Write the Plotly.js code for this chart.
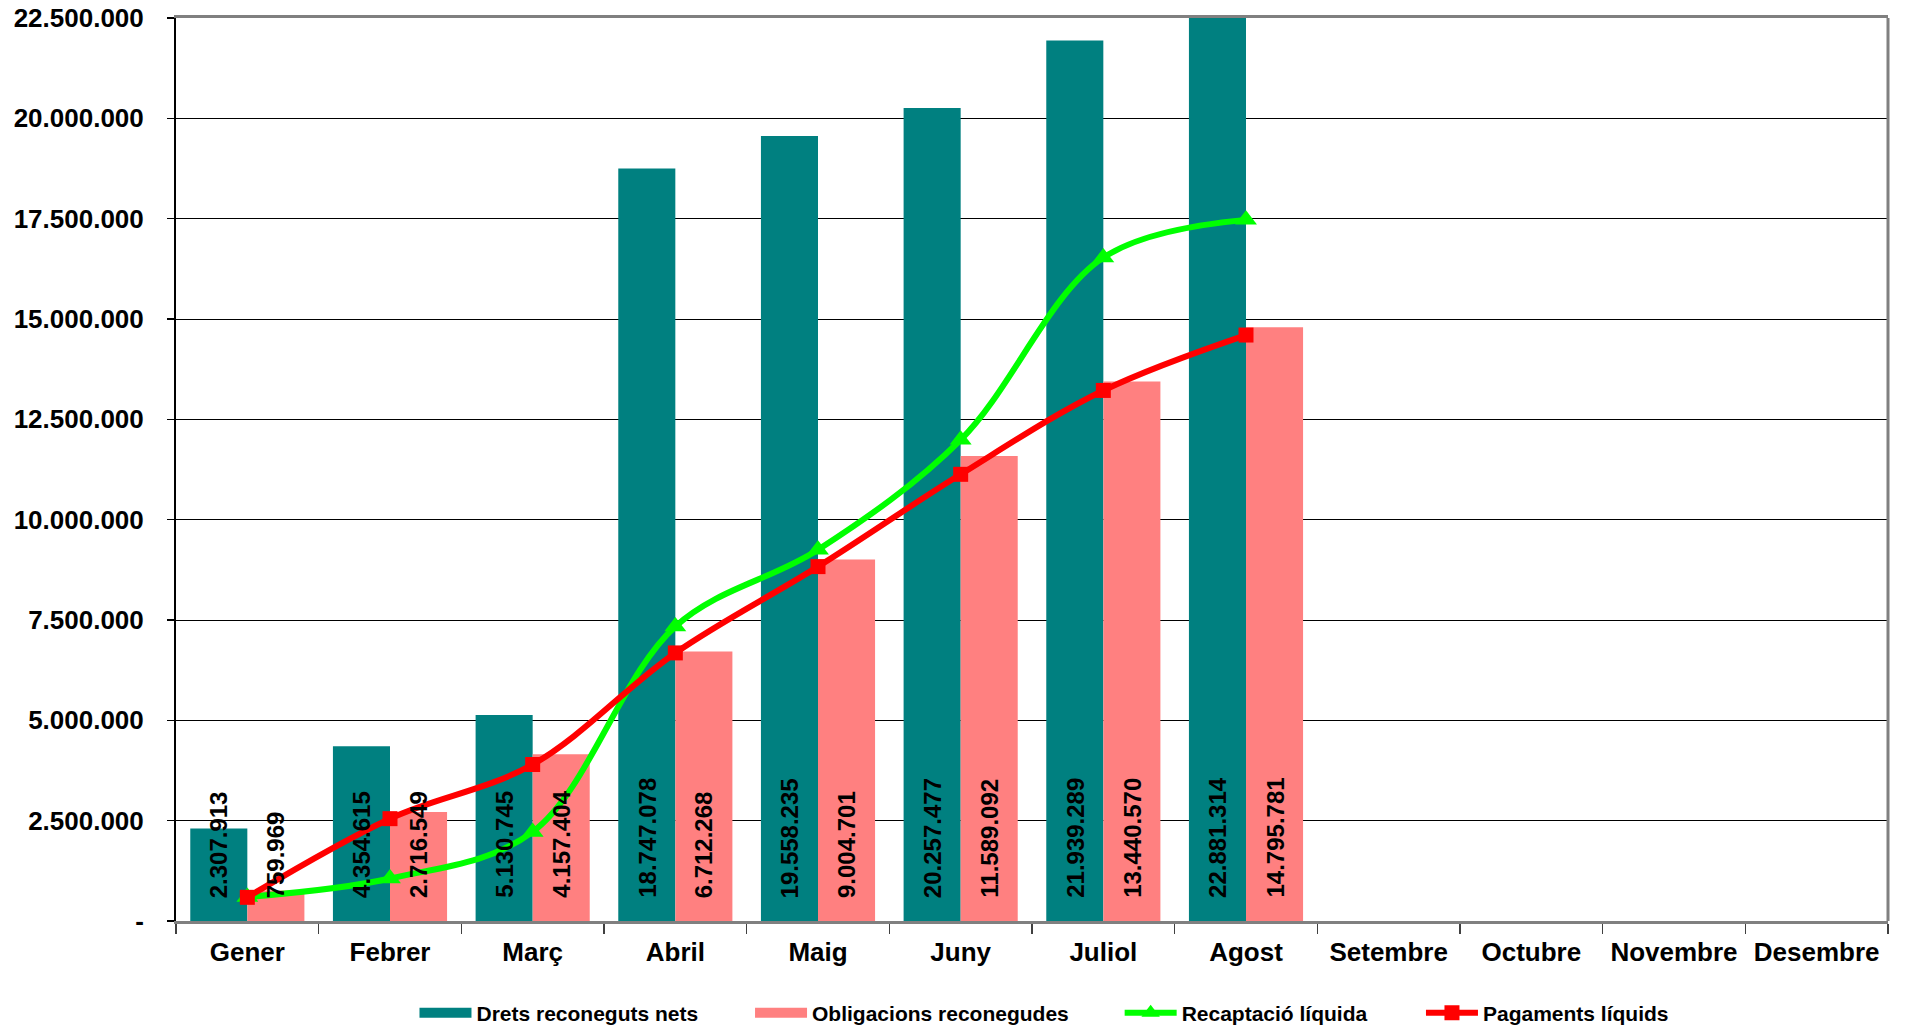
<!DOCTYPE html>
<html>
<head>
<meta charset="utf-8">
<script src="https://cdn.plot.ly/plotly-3.0.1.min.js"></script>
<style>html,body{margin:0;padding:0;background:#fff;}#chart{width:1906px;height:1028px;}</style>
</head>
<body>
<div id="chart"></div>
<script>
var months = ["Gener","Febrer","Març","Abril","Maig","Juny","Juliol","Agost","Setembre","Octubre","Novembre","Desembre"];
var drets = [2307913, 4354615, 5130745, 18747078, 19558235, 20257477, 21939289, 22881314];
var obligacions = [759969, 2716549, 4157404, 6712268, 9004701, 11589092, 13440570, 14795781];
var recaptacio = [600000, 1060000, 2220000, 7340000, 9250000, 11990000, 16530000, 17470000];
var pagaments = [590000, 2550000, 3900000, 6680000, 8830000, 11130000, 13220000, 14600000];
var yTickVals = [0, 2500000, 5000000, 7500000, 10000000, 12500000, 15000000, 17500000, 20000000, 22500000];
var yTickText = ["-", "2.500.000", "5.000.000", "7.500.000", "10.000.000", "12.500.000", "15.000.000", "17.500.000", "20.000.000", "22.500.000"];

var FONT = "Liberation Sans, Arial, sans-serif";
function fmt(v){ return String(v).replace(/\B(?=(\d{3})+(?!\d))/g, "."); }

var used = months.slice(0, drets.length);
var TEAL = "#008080", SALMON = "#FF8080";

var traces = [
  // legend swatches for the bar series (wide rectangles like the original)
  {type:"scatter", mode:"lines", name:"Drets reconeguts nets", x:[months[0]], y:[null], line:{color:TEAL, width:13}, hoverinfo:"skip", legend:"legend"},
  {type:"scatter", mode:"lines", name:"Obligacions reconegudes", x:[months[0]], y:[null], line:{color:SALMON, width:13}, hoverinfo:"skip", legend:"legend2"},
  {type:"bar", name:"Drets reconeguts nets", x:used, y:drets, marker:{color:TEAL}, hoverinfo:"skip", showlegend:false},
  {type:"bar", name:"Obligacions reconegudes", x:used, y:obligacions, marker:{color:SALMON}, hoverinfo:"skip", showlegend:false},
  {type:"scatter", mode:"lines+markers", name:"Recaptació líquida", x:used, y:recaptacio, legend:"legend3",
   line:{color:"#00FF00", width:6, shape:"spline", smoothing:1}, marker:{symbol:"triangle-up", size:19, color:"#00FF00"}},
  {type:"scatter", mode:"lines+markers", name:"Pagaments líquids", x:used, y:pagaments, legend:"legend4",
   line:{color:"#FF0000", width:6, shape:"spline", smoothing:1}, marker:{symbol:"square", size:15, color:"#FF0000"}},
  {type:"scatter", x:months, y:months.map(function(){return null;}), showlegend:false, hoverinfo:"skip", mode:"markers"}
];

var annotations = [];
function addLabels(arr, off){
  arr.forEach(function(v,i){
    annotations.push({x:i+off, y:0, xref:"x", yref:"y", text:fmt(v), showarrow:false, textangle:-90,
      yanchor:"bottom", xanchor:"center", yshift:22, borderpad:0,
      font:{family:FONT, size:24, color:"#000", weight:"bold"}});
  });
}
addLabels(drets, -0.2);
addLabels(obligacions, 0.2);

function legendAt(x){
  return {orientation:"h", x:x, xanchor:"left", xref:"paper", yref:"container", y:0.0146, yanchor:"middle",
    itemwidth:52, font:{family:FONT, size:21, color:"#000", weight:"bold"}, bgcolor:"rgba(0,0,0,0)"};
}

var layout = {
  width:1906, height:1028,
  margin:{l:176, r:18, t:18, b:107},
  paper_bgcolor:"#fff", plot_bgcolor:"#fff",
  barmode:"group", bargap:0.2, bargroupgap:0,
  font:{family:FONT, color:"#000"},
  showlegend:true,
  legend:legendAt(0.1393),
  legend2:legendAt(0.3353),
  legend3:legendAt(0.5512),
  legend4:legendAt(0.7272),
  xaxis:{type:"category", categoryorder:"array", categoryarray:months, range:[-0.5, 11.5],
    showline:true, linecolor:"#808080", linewidth:3, mirror:true,
    ticks:"outside", tickson:"boundaries", ticklen:10, tickcolor:"#404040", tickwidth:1.5,
    showgrid:false, tickfont:{family:FONT, size:26, color:"#000", weight:"bold"}, ticklabelstandoff:6,
    fixedrange:true},
  yaxis:{range:[0, 22500000], tickvals:yTickVals, ticktext:yTickText,
    showline:true, linecolor:"#000", linewidth:2,
    ticks:"outside", ticklen:7, tickcolor:"#000", tickwidth:1.5,
    showgrid:true, gridcolor:"#000", gridwidth:1, zeroline:false,
    tickfont:{family:FONT, size:26, color:"#000", weight:"bold"}, ticklabelstandoff:18,
    fixedrange:true},
  shapes:[{type:"line", xref:"paper", yref:"paper", x0:1, x1:1, y0:0, y1:1, line:{color:"#808080", width:3}}],
  annotations:annotations
};

Plotly.newPlot("chart", traces, layout, {staticPlot:true, displayModeBar:false});
</script>
</body>
</html>
